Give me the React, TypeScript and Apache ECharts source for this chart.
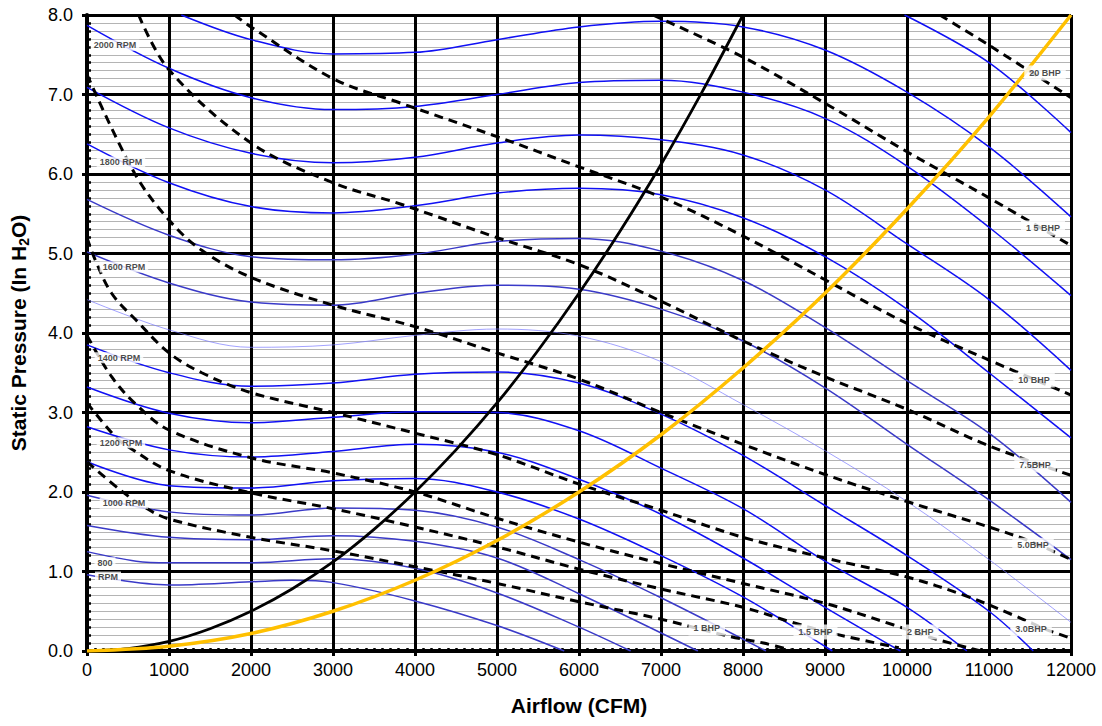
import React, { useEffect, useRef } from 'react';
import * as echarts from 'echarts';

// ---- Fan curves (airflow CFM, static pressure in H2O) ----
const rpm2200 = [[9970, 8.0], [11000, 7.4], [12000, 6.52]];
const rpm2100 = [[1150, 8.0], [2000, 7.69], [3000, 7.51], [4000, 7.53], [5000, 7.69], [6000, 7.85], [7000, 7.92], [8000, 7.85], [9000, 7.56], [10000, 7.03], [11000, 6.34], [12000, 5.46]];
const rpm2000 = [[0, 7.87], [1000, 7.33], [2000, 6.96], [3000, 6.81], [4000, 6.85], [5000, 7.0], [6000, 7.15], [7000, 7.18], [8000, 7.03], [9000, 6.7], [10000, 6.1], [11000, 5.33], [12000, 4.47]];
const rpm1900 = [[0, 7.09], [1000, 6.58], [2000, 6.26], [3000, 6.14], [4000, 6.21], [5000, 6.39], [6000, 6.49], [7000, 6.43], [8000, 6.24], [9000, 5.8], [10000, 5.12], [11000, 4.42], [12000, 3.53]];
const rpm1800 = [[0, 6.38], [1000, 5.89], [2000, 5.59], [3000, 5.51], [4000, 5.6], [5000, 5.76], [6000, 5.82], [7000, 5.74], [8000, 5.45], [9000, 4.96], [10000, 4.3], [11000, 3.5], [12000, 2.68]];
const rpm1700 = [[0, 5.68], [1000, 5.23], [2000, 4.96], [3000, 4.92], [4000, 4.99], [5000, 5.15], [6000, 5.19], [7000, 5.03], [8000, 4.66], [9000, 4.07], [10000, 3.4], [11000, 2.74], [12000, 1.87]];
const rpm1600 = [[0, 5.02], [1000, 4.63], [2000, 4.39], [3000, 4.35], [4000, 4.5], [5000, 4.6], [6000, 4.55], [7000, 4.3], [8000, 3.9], [9000, 3.31], [10000, 2.6], [11000, 1.9], [12000, 1.15]];
const rpm1500 = [[0, 4.42], [1000, 4.04], [2000, 3.82], [3000, 3.85], [4000, 3.97], [5000, 4.05], [6000, 3.96], [7000, 3.64], [8000, 3.1], [9000, 2.52], [10000, 1.88], [11000, 1.15], [12000, 0.36]];
const rpm1400 = [[0, 3.85], [1000, 3.5], [2000, 3.33], [3000, 3.37], [4000, 3.48], [5000, 3.51], [6000, 3.37], [7000, 2.98], [8000, 2.46], [9000, 1.83], [10000, 1.2], [11000, 0.5], [11540, 0]];
const rpm1300 = [[0, 3.32], [1000, 2.99], [2000, 2.87], [3000, 2.94], [4000, 3.01], [5000, 3.0], [6000, 2.77], [7000, 2.3], [8000, 1.79], [9000, 1.13], [10000, 0.55], [10730, 0]];
const rpm1200 = [[0, 2.82], [1000, 2.53], [2000, 2.44], [3000, 2.51], [4000, 2.6], [5000, 2.5], [6000, 2.16], [7000, 1.72], [8000, 1.17], [9000, 0.55], [9920, 0]];
const rpm1100 = [[0, 2.38], [1000, 2.08], [2000, 2.05], [3000, 2.14], [4000, 2.17], [5000, 2.0], [6000, 1.66], [7000, 1.2], [8000, 0.68], [9090, 0]];
const rpm1000 = [[0, 1.96], [1000, 1.75], [2000, 1.71], [3000, 1.8], [4000, 1.77], [5000, 1.56], [6000, 1.15], [7000, 0.67], [8280, 0]];
const rpm900 = [[0, 1.58], [1000, 1.43], [2000, 1.4], [3000, 1.45], [4000, 1.38], [5000, 1.17], [6000, 0.72], [7450, 0]];
const rpm800 = [[0, 1.25], [600, 1.13], [1000, 1.11], [2000, 1.11], [3000, 1.16], [4000, 1.04], [5000, 0.73], [6000, 0.3], [6630, 0]];
const rpm700 = [[0, 0.96], [1000, 0.83], [2000, 0.87], [2500, 0.89], [3000, 0.86], [4000, 0.63], [5000, 0.32], [5820, 0]];

// ---- Brake horsepower lines ----
const bhp1 = [[0, 2.38], [400, 2.03], [700, 1.81], [1000, 1.66], [2000, 1.43], [3000, 1.26], [4000, 1.06], [5000, 0.85], [6000, 0.62], [7000, 0.4], [7850, 0.18], [8250, 0.1], [8620, 0]];
const bhp1_5 = [[0, 3.12], [350, 2.69], [500, 2.57], [1000, 2.27], [2000, 1.99], [3000, 1.79], [4000, 1.56], [5000, 1.31], [6000, 1.03], [7000, 0.78], [8000, 0.55], [8600, 0.36], [9100, 0.22], [9900, 0.04]];
const bhp2 = [[0, 3.97], [300, 3.45], [600, 3.1], [1000, 2.78], [2000, 2.43], [3000, 2.24], [4000, 2.0], [5000, 1.67], [6000, 1.37], [7000, 1.1], [8000, 0.85], [9000, 0.6], [9830, 0.33], [10320, 0.16], [10900, 0]];
const bhp3 = [[0, 5.2], [100, 4.92], [300, 4.5], [600, 4.16], [1000, 3.75], [1400, 3.5], [2000, 3.25], [3000, 3.0], [4000, 2.74], [5000, 2.47], [6000, 2.1], [7000, 1.77], [8000, 1.43], [9000, 1.17], [10000, 0.93], [10700, 0.7], [11300, 0.45], [11700, 0.27], [12000, 0.16]];
const bhp5 = [[0, 7.25], [580, 6.01], [1000, 5.42], [1400, 5.04], [2000, 4.7], [3000, 4.35], [4000, 4.08], [5000, 3.75], [6000, 3.42], [7000, 3.0], [8000, 2.6], [9000, 2.22], [10000, 1.88], [11000, 1.56], [11500, 1.38], [12000, 1.15]];
const bhp7_5 = [[630, 8.0], [1000, 7.31], [2000, 6.39], [3000, 5.89], [3830, 5.62], [5000, 5.2], [6000, 4.86], [7000, 4.4], [8000, 3.9], [9000, 3.45], [10000, 3.04], [11000, 2.58], [12000, 2.21]];
const bhp10 = [[1800, 8.0], [2000, 7.85], [3000, 7.2], [3830, 6.89], [5000, 6.47], [6000, 6.09], [7000, 5.71], [8000, 5.22], [9000, 4.67], [10000, 4.12], [11000, 3.66], [12000, 3.22]];
const bhp15 = [[6900, 8.0], [8000, 7.47], [9000, 6.89], [10000, 6.28], [11000, 5.7], [12000, 5.1]];
const bhp20 = [[10400, 8.0], [11000, 7.62], [12000, 6.96]];

// ---- System curves ----
const systemBlack = [[0, 0], [500, 0.03], [1000, 0.12], [1500, 0.28], [2000, 0.5], [2500, 0.78], [3000, 1.12], [3500, 1.53], [4000, 2.0], [4500, 2.53], [5000, 3.12], [5500, 3.78], [6000, 4.5], [6500, 5.28], [7000, 6.12], [7500, 7.03], [8000, 8.0]];
const systemGold = [[0, 0], [1000, 0.06], [2000, 0.22], [3000, 0.5], [4000, 0.89], [5000, 1.39], [6000, 2.0], [7000, 2.72], [8000, 3.56], [9000, 4.5], [10000, 5.56], [11000, 6.72], [12000, 8.0]];

// ---- Annotations ----
const rpmLabels = ['2000 RPM', '1800 RPM', '1600 RPM', '1400 RPM', '1200 RPM', '1000 RPM', '800', 'RPM'];
const rpmLabelAt = [[341, 7.62], [414, 6.15], [450, 4.83], [390, 3.69], [414, 2.62], [450, 1.86], [219, 1.11], [256, 0.93]];
const bhpLabels = ['20 BHP', '1 5 BHP', '10 BHP', '7.5BHP', '5.0BHP', '1 BHP', '1.5 BHP', '2 BHP', '3.0BHP'];
const bhpLabelAt = [[11683, 7.27], [11659, 5.32], [11549, 3.41], [11562, 2.34], [11537, 1.33], [7558, 0.29], [8884, 0.24], [10162, 0.24], [11513, 0.28]];

const BRIGHT = '#1010f4';
const MUTED = '#3a3ac8';
const THIN = '#7a7aff';

const fanCurves = [
  { name: '2200 RPM', data: rpm2200, color: BRIGHT, width: 1.5 },
  { name: '2100 RPM', data: rpm2100, color: BRIGHT, width: 1.5 },
  { name: '2000 RPM', data: rpm2000, color: BRIGHT, width: 1.5 },
  { name: '1900 RPM', data: rpm1900, color: BRIGHT, width: 1.5 },
  { name: '1800 RPM', data: rpm1800, color: BRIGHT, width: 1.5 },
  { name: '1700 RPM', data: rpm1700, color: MUTED, width: 1.5 },
  { name: '1600 RPM', data: rpm1600, color: MUTED, width: 1.5 },
  { name: '1500 RPM', data: rpm1500, color: THIN, width: 0.7 },
  { name: '1400 RPM', data: rpm1400, color: BRIGHT, width: 1.5 },
  { name: '1300 RPM', data: rpm1300, color: BRIGHT, width: 1.5 },
  { name: '1200 RPM', data: rpm1200, color: BRIGHT, width: 1.5 },
  { name: '1100 RPM', data: rpm1100, color: BRIGHT, width: 1.5 },
  { name: '1000 RPM', data: rpm1000, color: MUTED, width: 1.5 },
  { name: '900 RPM', data: rpm900, color: MUTED, width: 1.5 },
  { name: '800 RPM', data: rpm800, color: MUTED, width: 1.5 },
  { name: '700 RPM', data: rpm700, color: MUTED, width: 1.5 },
];

const bhpCurves = [
  { name: '1 BHP', data: bhp1 },
  { name: '1.5 BHP', data: bhp1_5 },
  { name: '2 BHP', data: bhp2 },
  { name: '3 BHP', data: bhp3 },
  { name: '5 BHP', data: bhp5 },
  { name: '7.5 BHP', data: bhp7_5 },
  { name: '10 BHP', data: bhp10 },
  { name: '15 BHP', data: bhp15 },
  { name: '20 BHP', data: bhp20 },
];

export default function App() {
  const ref = useRef<HTMLDivElement>(null);

  useEffect(() => {
    if (!ref.current) return;
    const chart = echarts.init(ref.current, null, { renderer: 'svg' });
    const font = "'Liberation Sans', Arial, sans-serif";

    const line = (name: string, data: number[][], color: string, width: number, type: any, z: number, smooth = 0.35) => ({
      type: 'line',
      name,
      data,
      symbol: 'none',
      showSymbol: false,
      smooth,
      clip: true,
      silent: true,
      z,
      lineStyle: { color, width, type },
    });

    const series: any[] = [];
    fanCurves.forEach((c) => series.push(line(c.name, c.data, c.color, c.width, 'solid', 2)));
    bhpCurves.forEach((c) => series.push(line(c.name, c.data, '#000', 3, [9, 6], 3)));
    series.push(line('System A', systemBlack, '#000', 2.8, 'solid', 4, 0.3));
    series.push(line('System B', systemGold, '#FFC000', 3.5, 'solid', 4, 0.3));

    const labelStyle = {
      show: true,
      position: 'inside',
      formatter: '{b}',
      fontFamily: font,
      fontSize: 9,
      fontWeight: 'bold',
      color: '#1a1a1a',
      backgroundColor: '#fff',
    };

    series.push({
      type: 'scatter',
      name: 'rpmLabels',
      silent: true,
      z: 8,
      symbolSize: 1,
      itemStyle: { color: 'rgba(0,0,0,0)' },
      data: rpmLabels.map((t, i) => ({ name: t, value: rpmLabelAt[i] })),
      label: { ...labelStyle, padding: [1, 3] },
    });
    series.push({
      type: 'scatter',
      name: 'bhpLabels',
      silent: true,
      z: 8,
      symbolSize: 1,
      itemStyle: { color: 'rgba(0,0,0,0)' },
      data: bhpLabels.map((t, i) => ({ name: t, value: bhpLabelAt[i] })),
      label: { ...labelStyle, padding: [3, 5] },
    });

    chart.setOption({
      animation: false,
      backgroundColor: '#fff',
      grid: { left: 85, right: 31, top: 15, bottom: 75, containLabel: false },
      xAxis: [
        {
          type: 'value',
          min: 0,
          max: 12000,
          interval: 1000,
          position: 'bottom',
          name: 'Airflow (CFM)',
          nameLocation: 'middle',
          nameGap: 44,
          nameTextStyle: { fontFamily: font, fontSize: 21, fontWeight: 'bold', color: '#000' },
          axisLine: { show: true, onZero: false, lineStyle: { color: '#000', width: 4 } },
          axisTick: { show: true, length: 5, lineStyle: { color: '#000', width: 3 } },
          minorTick: { show: false },
          axisLabel: {
            margin: 10,
            fontFamily: font,
            fontSize: 18,
            color: '#000',
            formatter: (v: number) => String(Math.round(v)),
          },
          splitLine: { show: true, lineStyle: { color: '#000', width: 3 } },
        },
        {
          type: 'value',
          min: 0,
          max: 12000,
          interval: 1000,
          position: 'bottom',
          axisLine: { show: false, onZero: false },
          axisTick: { show: false, inside: true },
          minorTick: { show: true, splitNumber: 10, length: 3, lineStyle: { color: '#000', width: 2.5 } },
          axisLabel: { show: false },
          splitLine: { show: false },
        },
      ],
      yAxis: [
        {
          type: 'value',
          min: 0,
          max: 8,
          interval: 1,
          position: 'left',
          name: '{a|Static Pressure (In H}{s|2}{a|O)}',
          nameLocation: 'middle',
          nameGap: 56,
          nameTextStyle: {
            fontFamily: font,
            fontSize: 21,
            fontWeight: 'bold',
            color: '#000',
            rich: {
              a: { fontFamily: font, fontSize: 21, fontWeight: 'bold', color: '#000', verticalAlign: 'top' },
              s: { fontFamily: font, fontSize: 14, fontWeight: 'bold', color: '#000', verticalAlign: 'top', padding: [9, 0, 0, 0] },
            },
          },
          axisLine: { show: true, onZero: false, lineStyle: { color: '#000', width: 4 } },
          axisTick: { show: true, length: 5, lineStyle: { color: '#000', width: 3 } },
          minorTick: { show: false, splitNumber: 10 },
          minorSplitLine: { show: true, lineStyle: { color: '#b4b4b4', width: 1 } },
          axisLabel: {
            margin: 14,
            fontFamily: font,
            fontSize: 18,
            color: '#000',
            formatter: (v: number) => v.toFixed(1),
          },
          splitLine: { show: true, lineStyle: { color: '#000', width: 3 } },
        },
        {
          type: 'value',
          min: 0,
          max: 8,
          interval: 1,
          position: 'left',
          axisLine: { show: false, onZero: false },
          axisTick: { show: false, inside: true },
          minorTick: { show: true, splitNumber: 10, length: 4, lineStyle: { color: '#000', width: 2.5 } },
          axisLabel: { show: false },
          splitLine: { show: false },
        },
      ],
      series,
    });

    return () => chart.dispose();
  }, []);

  return (
    <div
      ref={ref}
      style={{ position: 'fixed', left: 0, top: 0, width: 1102, height: 726, background: '#fff' }}
    />
  );
}
